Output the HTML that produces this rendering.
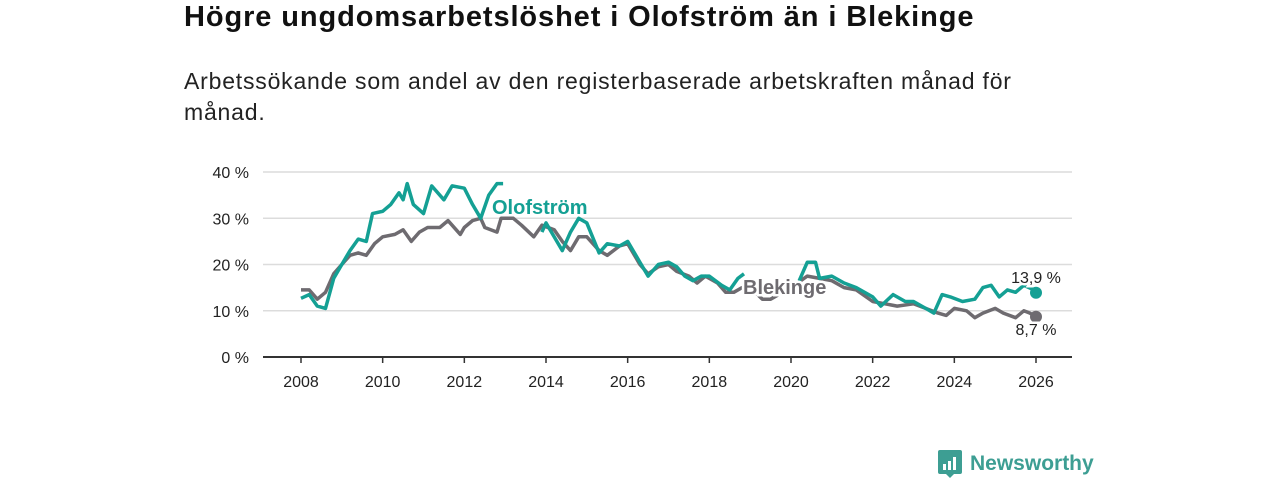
<!DOCTYPE html>
<html><head><meta charset="utf-8"><style>
body{margin:0;width:1280px;height:480px;background:#fff;font-family:"Liberation Sans",sans-serif;overflow:hidden;position:relative}
h1{position:absolute;left:184px;top:1px;margin:0;font-size:29px;letter-spacing:0.9px;font-weight:bold;color:#111}
p{position:absolute;left:184px;top:66px;margin:0;font-size:23px;letter-spacing:0.8px;line-height:31px;color:#222;width:860px}
svg{position:absolute;left:0;top:0}
</style></head><body>
<h1>Högre ungdomsarbetslöshet i Olofström än i Blekinge</h1>
<p>Arbetssökande som andel av den registerbaserade arbetskraften månad för månad.</p>
<svg id="c" width="1280" height="480"></svg>
<div style="position:absolute;left:938px;top:450px;display:flex;align-items:center;color:#3d9e93;font-size:21px;font-weight:bold">
<svg width="24" height="28" style="position:static;margin-right:8px"><path d="M0 2 Q0 0 2 0 H22 Q24 0 24 2 V22 Q24 24 22 24 H16 L12 28 L8 24 H2 Q0 24 0 22Z" fill="#3d9e93"/><rect x="5" y="14" width="3" height="6" fill="#fff"/><rect x="10" y="11" width="3" height="9" fill="#fff"/><rect x="15" y="7" width="3" height="13" fill="#fff"/></svg>Newsworthy</div>
<script>
const olofT=[2008.0,2008.2,2008.4,2008.6,2008.8,2009.0,2009.2,2009.4,2009.6,2009.75,2010.0,2010.2,2010.4,2010.5,2010.6,2010.75,2011.0,2011.2,2011.5,2011.7,2012.0,2012.2,2012.4,2012.6,2012.8,2012.95,2013.5,2013.9,2014.0,2014.4,2014.6,2014.8,2015.0,2015.3,2015.5,2015.8,2016.0,2016.3,2016.5,2016.75,2017.0,2017.2,2017.4,2017.6,2017.8,2018.0,2018.3,2018.5,2018.7,2018.85,2019.5,2020.2,2020.4,2020.6,2020.7,2021.0,2021.3,2021.6,2022.0,2022.2,2022.5,2022.8,2023.0,2023.3,2023.5,2023.7,2023.9,2024.2,2024.5,2024.7,2024.9,2025.1,2025.3,2025.5,2025.7,2025.95,2026.0];
const olofV=[12.7,13.5,11,10.5,17,20,23,25.5,25,31,31.5,33,35.5,34,37.5,33,31,37,34,37,36.5,33,30,35,37.5,37.5,null,27,29,23,27,30,29,22.5,24.5,24,25,20.5,17.5,20,20.5,19.5,17.5,16.5,17.5,17.5,15.5,14.5,17,18,null,16.5,20.5,20.5,17,17.5,16,15,13,11,13.5,12,12,10.5,9.5,13.5,13,12,12.5,15,15.5,13,14.5,14,15.5,14.5,13.9];
const blekT=[2008.0,2008.2,2008.4,2008.6,2008.8,2009.0,2009.2,2009.4,2009.6,2009.8,2010.0,2010.3,2010.5,2010.7,2010.9,2011.1,2011.4,2011.6,2011.9,2012.0,2012.2,2012.4,2012.5,2012.8,2012.9,2013.2,2013.4,2013.7,2013.9,2014.2,2014.4,2014.6,2014.8,2015.0,2015.3,2015.5,2015.8,2016.0,2016.3,2016.5,2016.75,2017.0,2017.2,2017.5,2017.7,2017.9,2018.2,2018.4,2018.6,2018.8,2019.0,2019.3,2019.5,2020.0,2020.4,2020.7,2021.0,2021.3,2021.6,2022.0,2022.3,2022.6,2023.0,2023.3,2023.6,2023.8,2024.0,2024.3,2024.5,2024.7,2025.0,2025.2,2025.5,2025.7,2025.85,2026.0];
const blekV=[14.5,14.5,12.5,14,18,20,22,22.5,22,24.5,26,26.5,27.5,25,27,28,28,29.5,26.5,28,29.5,30,28,27,30,30,28.5,26,28.5,27.5,25,23,26,26,23,22,24,24.5,20,18,19.5,20,18.5,17.5,16,17.5,16,14,14,15,15,12.5,12.5,15,17.5,17,16.5,15,14.5,12,11.5,11,11.5,10.5,9.5,9,10.5,10,8.5,9.5,10.5,9.5,8.5,10,9.5,8.7];
const yTicks=[0,10,20,30,40];
const xTicks=[2008,2010,2012,2014,2016,2018,2020,2022,2024,2026];
const NS='http://www.w3.org/2000/svg',svg=document.getElementById('c');
const X=t=>301+(t-2008)*(1036-301)/18, Y=v=>357-v*4.625;
function mk(tag,at,txt){const e=document.createElementNS(NS,tag);for(const k in at)e.setAttribute(k,at[k]);if(txt!=null)e.textContent=txt;svg.appendChild(e);return e;}
yTicks.forEach(v=>{
 const g=mk('line',{x1:263,x2:1072,y1:Y(v),y2:Y(v),stroke:v?'#dcdcdc':'#333','stroke-width':v?1.5:2});
 
 
 const t=mk('text',{x:249,y:Y(v)+6,'text-anchor':'end','font-size':16,fill:'#222'},v+' %');
 
 
});
xTicks.forEach(y=>{
 const l=mk('line',{x1:X(y),x2:X(y),y1:357,y2:363,stroke:'#333','stroke-width':1.5});
 
 
 const t=mk('text',{x:X(y),y:387,'text-anchor':'middle','font-size':16,fill:'#222'},y);
 
 
});
function line(T,V,col,name){
 let d='',pen=false;
 T.forEach((t,i)=>{if(V[i]==null){pen=false;return;}d+=(pen?'L':'M')+X(t).toFixed(1)+' '+Y(V[i]).toFixed(1);pen=true;});
 const p=mk('path',{d:d,fill:'none',stroke:col,'stroke-width':3.5,'stroke-linejoin':'round'});
 
 
 const n=T.length-1;
 const c=mk('circle',{cx:X(T[n]),cy:Y(V[n]),r:6,fill:col});
 
 
}
line(blekT,blekV,'#6e6b70','blekinge');
line(olofT,olofV,'#14a094','olofstrom');
function lab(x,y,txt,col,sz,w,anchor,name){
 const t=mk('text',{x:x,y:y,'font-size':sz,'font-weight':w,fill:col,stroke:'#fff','stroke-width':5,'paint-order':'stroke','text-anchor':anchor},txt);
 
 
}
lab(492,214,'Olofström','#14a094',20,'bold','start','olofstrom-label');
lab(743,294,'Blekinge','#6e6b70',20,'bold','start','blekinge-label');
lab(1036,283,'13,9 %','#222',16,'normal','middle','olofstrom-end-value');
lab(1036,335,'8,7 %','#222',16,'normal','middle','blekinge-end-value');
</script>
</body></html>
